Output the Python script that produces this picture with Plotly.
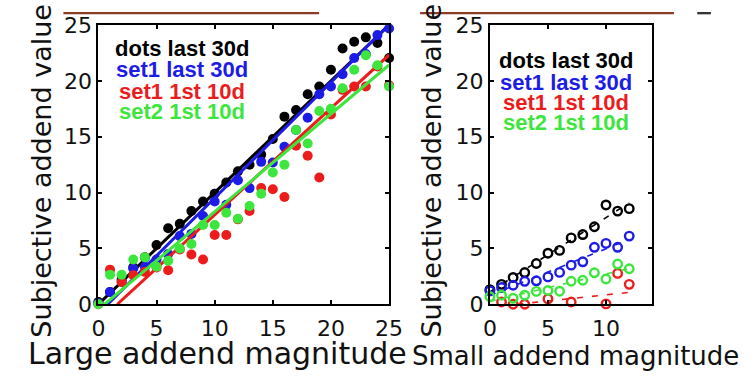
import plotly.graph_objects as go

# ---------------- data ----------------
series_names = ["dots last 30d", "set1 last 30d", "set1 1st 10d", "set2 1st 10d"]
series_colors = ["#000000", "#1c1ce6", "#ec1c1c", "#3ce63c"]

# Left panel: large addend magnitude 0..25
large_x = list(range(26))
large_dots_last30 = [0.2, 1.1, 2.2, 3.3, 4.2, 5.3, 6.8, 7.2, 8.35, 9.2, 9.9, 10.9, 11.9,
                     12.5, 13.4, 14.8, 16.8, 17.4, 18.8, 19.5, 21.0, 22.9, 23.5, 23.9, 23.4, 22.05]
large_set1_last30 = [0.1, 1.1, 2.0, 3.2, 3.35, 4.0, 4.5, 6.1, 6.3, 7.9, 9.2, 8.9, 11.1,
                     10.4, 12.75, 12.7, 14.1, 15.6, 16.7, 18.8, 19.5, 20.6, 22.05, 22.4, 24.1, 24.7]
large_set1_first10 = [0.0, 3.1, 2.0, 2.6, 2.9, 3.3, 3.05, 4.9, 4.45, 4.0, 6.2, 6.2, 7.6,
                      8.35, 10.4, 10.3, 9.6, 14.2, 13.3, 11.35, 17.0, 19.2, 19.5, 19.5, 21.3, 19.6]
large_set2_first10 = [0.0, 2.65, 2.64, 4.0, 4.2, 3.35, 3.9, 5.0, 5.4, 7.1, 7.1, 8.2, 7.65,
                      8.8, 9.9, 11.8, 12.5, 15.6, 14.4, 17.3, 17.5, 19.35, 21.0, 22.3, 21.4, 19.5]
large_fit_slope = [1.0, 1.035, 0.955, 0.876]
large_fit_intercept = [0.0, -0.83, -1.55, -0.47]

# Right panel: small addend magnitude 0..12
small_x = list(range(13))
small_dots_last30 = [1.31, 1.78, 2.4, 2.84, 3.65, 4.57, 4.82, 5.94, 6.24, 6.94, 8.89, 8.34, 8.56]
small_set1_last30 = [1.2, 1.5, 1.7, 2.05, 2.1, 2.45, 2.85, 3.5, 3.8, 5.1, 5.45, 5.1, 6.1]
small_set1_first10_x = [1, 2, 3, 5, 7, 10, 11, 12]
small_set1_first10 = [0.2, 0.0, 0.0, 0.48, 0.2, 0.03, 2.76, 1.78]
small_set2_first10 = [0.67, 0.81, 0.53, 0.81, 1.15, 1.23, 1.17, 2.06, 2.15, 2.82, 2.26, 3.6, 3.18]
small_fit_slope = [0.665, 0.418, 0.11, 0.246]
small_fit_intercept = [1.11, 0.79, -0.26, 0.25]

tick_vals_large = [0, 5, 10, 15, 20, 25]
tick_vals_small = [0, 5, 10]
tick_vals_y = [0, 5, 10, 15, 20, 25]

x_title_left = "Large addend magnitude"
x_title_right = "Small addend magnitude"
y_title = "Subjective addend value"

# ---------------- figure ----------------
W, H = 756, 377
fig = go.Figure()

large_series = [(large_x, large_dots_last30), (large_x, large_set1_last30),
                (large_x, large_set1_first10), (large_x, large_set2_first10)]
small_series = [(small_x, small_dots_last30), (small_x, small_set1_last30),
                (small_set1_first10_x, small_set1_first10), (small_x, small_set2_first10)]


def fit_segment(m, b, xmin, xmax, ymin):
    x0 = max(xmin, (ymin - b) / m)
    return [x0, xmax], [m * x0 + b, m * xmax + b]


for i in range(4):
    xs, ys = large_series[i]
    fig.add_trace(go.Scatter(x=xs, y=ys, mode="markers", xaxis="x", yaxis="y",
                             marker=dict(size=10, color=series_colors[i]),
                             cliponaxis=False, showlegend=False))
    lx, ly = fit_segment(large_fit_slope[i], large_fit_intercept[i], 0, 25, 0)
    fig.add_trace(go.Scatter(x=lx, y=ly, mode="lines", xaxis="x", yaxis="y",
                             line=dict(color=series_colors[i], width=3),
                             showlegend=False))

for i in range(4):
    xs, ys = small_series[i]
    lx, ly = fit_segment(small_fit_slope[i], small_fit_intercept[i], 0, 12, 0)
    fig.add_trace(go.Scatter(x=lx, y=ly, mode="lines", xaxis="x2", yaxis="y2",
                             line=dict(color=series_colors[i], width=1.6, dash="6px,9px"),
                             showlegend=False))
    fig.add_trace(go.Scatter(x=xs, y=ys, mode="markers", xaxis="x2", yaxis="y2",
                             marker=dict(size=8.5, color=series_colors[i], symbol="circle-open",
                                         line=dict(width=2.4)),
                             cliponaxis=False, showlegend=False))

ydom = [1 - 313 / H, 1 - 14 / H]
axis_common = dict(showgrid=False, zeroline=False, showline=True, linecolor="black",
                   linewidth=2, mirror="ticks", ticks="inside", ticklen=4, tickwidth=1.5,
                   tickcolor="black", tickfont=dict(family="DejaVu Sans", size=22, color="#111"))

fig.update_layout(
    width=W, height=H, margin=dict(l=0, r=0, t=0, b=0),
    paper_bgcolor="white", plot_bgcolor="white",
    xaxis=dict(domain=[94 / W, 393 / W], range=[0, 25], tickvals=tick_vals_large,
               anchor="y", ticklabelstandoff=3, **axis_common),
    yaxis=dict(domain=ydom, range=[0, 25], tickvals=tick_vals_y, anchor="x", **axis_common),
    xaxis2=dict(domain=[496.7 / W, 663.9 / W], range=[0, 14], tickvals=tick_vals_small,
                anchor="y2", ticklabelstandoff=3, **axis_common),
    yaxis2=dict(domain=ydom, range=[0, 25], tickvals=tick_vals_y, anchor="x2", **axis_common),
)

annotations = []
legend_y_left = [22.9, 21.0, 19.06, 17.25]
legend_y_right = [21.85, 19.9, 18.09, 16.28]
for i in range(4):
    annotations.append(dict(x=7.23, y=legend_y_left[i], xref="x", yref="y",
                            text="<b>" + series_names[i] + "</b>", showarrow=False,
                            xanchor="center", yanchor="middle",
                            font=dict(family="Liberation Sans, Arial", size=22,
                                      color=series_colors[i])))
    annotations.append(dict(x=6.52, y=legend_y_right[i], xref="x2", yref="y2",
                            text="<b>" + series_names[i] + "</b>", showarrow=False,
                            xanchor="center", yanchor="middle",
                            font=dict(family="Liberation Sans, Arial", size=22,
                                      color=series_colors[i])))

annotations += [
    dict(x=216 / W, y=0, xref="paper", yref="paper", text=x_title_left, showarrow=False,
         xanchor="center", yanchor="bottom", yshift=-9,
         font=dict(family="DejaVu Sans", size=30, color="#111")),
    dict(x=585 / W, y=0, xref="paper", yref="paper", text=x_title_right, showarrow=False,
         xanchor="center", yanchor="bottom", yshift=-9,
         font=dict(family="DejaVu Sans", size=26, color="#111")),
    dict(x=36 / W, y=1 - 170 / H, xref="paper", yref="paper", text=y_title, showarrow=False,
         textangle=-90, xanchor="center", yanchor="middle",
         font=dict(family="DejaVu Sans", size=27, color="#111")),
    dict(x=437 / W, y=1 - 170 / H, xref="paper", yref="paper", text=y_title, showarrow=False,
         textangle=-90, xanchor="center", yanchor="middle",
         font=dict(family="DejaVu Sans", size=27, color="#111")),
]
fig.update_layout(annotations=annotations)

# thin cropped strips at the very top of the original image
fig.update_layout(shapes=[
    dict(type="rect", xref="paper", yref="paper", x0=58 / W, x1=321 / W, y0=1 - 2.5 / H, y1=1,
         fillcolor="#8e3a24", line=dict(width=0)),
    dict(type="rect", xref="paper", yref="paper", x0=425 / W, x1=686 / W, y0=1 - 2.5 / H, y1=1,
         fillcolor="#8e3a24", line=dict(width=0)),
    dict(type="rect", xref="paper", yref="paper", x0=710 / W, x1=724 / W, y0=1 - 2.5 / H, y1=1,
         fillcolor="#333333", line=dict(width=0)),
])

fig.write_html("out.html")
